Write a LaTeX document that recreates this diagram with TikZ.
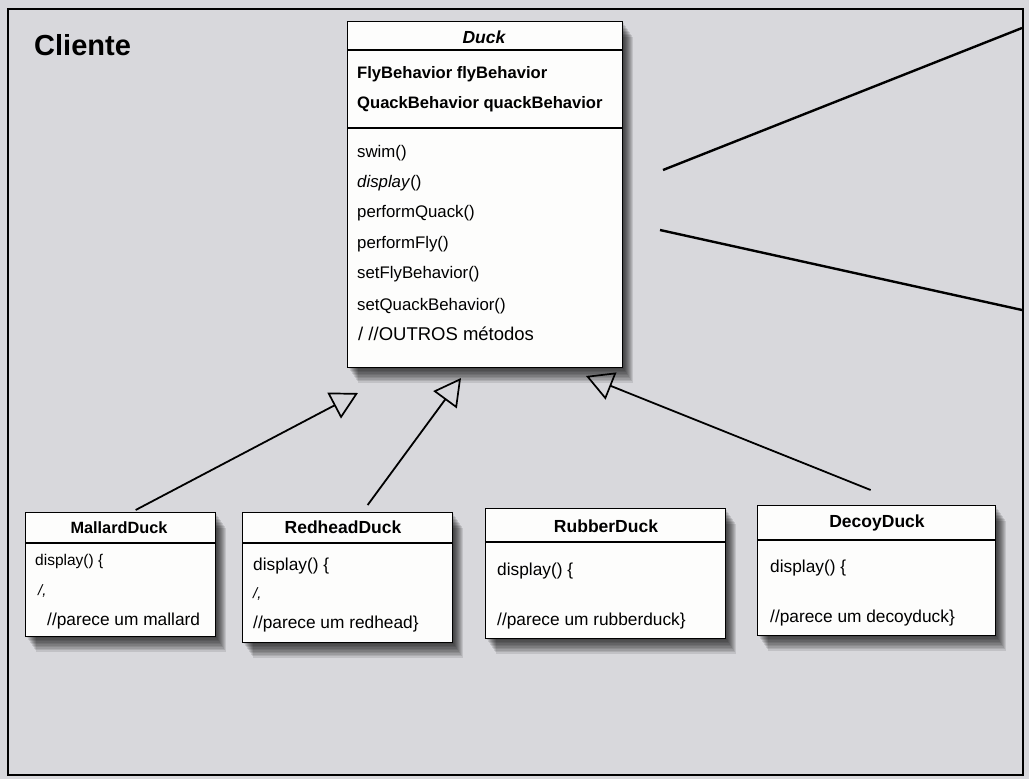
\documentclass[tikz,border=0pt]{standalone}
\usepackage{fontspec}
\setmainfont{Liberation Sans}
\usetikzlibrary{arrows.meta}
\definecolor{bg}{RGB}{216,216,220}
\definecolor{boxfill}{RGB}{253,253,252}
\tikzset{
  shadowlayer/.style 2 args={preaction={fill=black, fill opacity=0.1, draw=none,
      transform canvas={xshift=#1, yshift=#2}}},
  umlbox/.style={draw=black, line width=1.3pt, fill=boxfill, anchor=north west, inner sep=0pt,
    shadowlayer={1pt}{-1.5pt}, shadowlayer={2pt}{-3pt}, shadowlayer={3pt}{-4.5pt},
    shadowlayer={4pt}{-6pt}, shadowlayer={5pt}{-7.5pt}, shadowlayer={6pt}{-9pt},
    shadowlayer={7pt}{-10.5pt}, shadowlayer={8pt}{-12pt}, shadowlayer={9pt}{-13.5pt},
    shadowlayer={10pt}{-15pt}},
  divider/.style={draw=black, line width=1.2pt},
  attr/.style={anchor=base west, inner sep=0pt, font=\fontsize{16.6}{20}\selectfont\bfseries},
  meth/.style={anchor=base west, inner sep=0pt, font=\fontsize{16.8}{20}\selectfont},
  cname/.style={anchor=base, inner sep=0pt, font=\fontsize{17.5}{21}\selectfont\bfseries},
  body/.style={anchor=base west, inner sep=0pt, font=\fontsize{17.3}{21}\selectfont},
  inh/.style={draw=black, line width=1.8pt, -{Triangle[open, length=27pt, width=29pt, line width=1.7pt]}},
  pointer/.style={draw=black, line width=2.4pt},
}
\begin{document}
\begin{tikzpicture}[x=1pt, y=-1pt]
\useasboundingbox (0,0) rectangle (1029,779);
\fill[bg] (0,0) rectangle (1029,779);
\draw[line width=2.6pt] (8,9) rectangle (1023,775);

\node[anchor=base west, inner sep=0pt, font=\fontsize{29}{34}\selectfont\bfseries] (cliente) at (34,55) {Cliente};

% Duck class
\node[umlbox, minimum width=275pt, minimum height=346pt] (duck) at (347,21) {};
\draw[divider] (347,50) -- (622,50);
\draw[divider] (347,128) -- (622,128);
\node[cname, font=\fontsize{17.5}{21}\selectfont\bfseries\itshape] (duckname) at (484,43) {Duck};
\node[attr] (a1) at (357,78) {FlyBehavior flyBehavior};
\node[attr] (a2) at (357,108) {QuackBehavior quackBehavior};
\node[meth] (m1) at (357,157) {swim()};
\node[meth] (m2) at (357,187) {\textit{display}()};
\node[meth] (m3) at (357,217) {performQuack()};
\node[meth] (m4) at (357,248) {performFly()};
\node[meth] (m5) at (357,278) {setFlyBehavior()};
\node[meth] (m6) at (357,310) {setQuackBehavior()};
\node[meth, font=\fontsize{18.5}{22}\selectfont] (m7) at (358,340) {/ //OUTROS métodos};

% MallardDuck
\node[umlbox, minimum width=190pt, minimum height=124pt] (mallard) at (25,512) {};
\draw[divider] (25,543) -- (215,543);
\node[cname, font=\fontsize{16.3}{20}\selectfont\bfseries] (mname) at (119,533) {MallardDuck};
\node[body, font=\fontsize{15.5}{19}\selectfont] (mb1) at (35,565) {display() \{};
\node[body, font=\fontsize{15}{18}\selectfont\itshape] (mb2) at (38,595) {/,};
\node[body] (mb3) at (47,625) {//parece um mallard};

% RedheadDuck
\node[umlbox, minimum width=210pt, minimum height=130pt] (redhead) at (242,512) {};
\draw[divider] (242,543) -- (452,543);
\node[cname] (rname) at (343,533) {RedheadDuck};
\node[body] (rb1) at (253,570) {display() \{};
\node[body, font=\fontsize{15}{18}\selectfont\itshape] (rb2) at (253,598) {/,};
\node[body] (rb3) at (253,628) {//parece um redhead\}};

% RubberDuck
\node[umlbox, minimum width=240pt, minimum height=130pt] (rubber) at (485,508) {};
\draw[divider] (485,542) -- (725,542);
\node[cname] (ubname) at (606,532) {RubberDuck};
\node[body] (ub1) at (497,575) {display() \{};
\node[body] (ub3) at (497,625) {//parece um rubberduck\}};

% DecoyDuck
\node[umlbox, minimum width=238pt, minimum height=130pt] (decoy) at (757,505) {};
\draw[divider] (757,540) -- (995,540);
\node[cname] (dname) at (877,527) {DecoyDuck};
\node[body] (db1) at (770,572) {display() \{};
\node[body] (db3) at (770,622) {//parece um decoyduck\}};

% inheritance arrows
\coordinate (t1) at (358,393);
\coordinate (t2) at (461,378);
\coordinate (t3) at (586,376);
\draw[inh] ([xshift=15pt,yshift=2pt]mallard.north) -- (t1);
\draw[inh] ([xshift=20pt,yshift=7pt]redhead.north) -- (t2);
\draw[inh] ([xshift=-6pt,yshift=15pt]decoy.north) -- (t3);

% pointer lines to the right
\coordinate (p1s) at (663,170);
\coordinate (p1e) at (1022,28);
\coordinate (p2s) at (660,230);
\coordinate (p2e) at (1022,310);
\draw[pointer] (p1s) -- (p1e);
\draw[pointer] (p2s) -- (p2e);
\end{tikzpicture}
\end{document}
